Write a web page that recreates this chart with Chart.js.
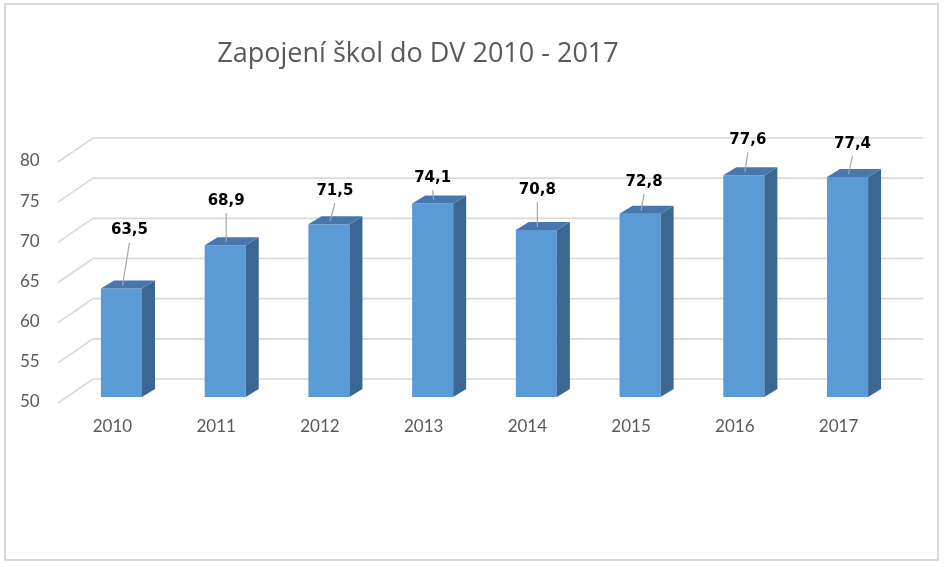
<!DOCTYPE html>
<html>
<head>
<meta charset="utf-8">
<script src="https://cdn.jsdelivr.net/npm/chart.js@4/dist/chart.umd.min.js"></script>
<style>
  html, body { margin: 0; padding: 0; background: #fff; }
  #wrap { width: 945px; height: 567px; }
</style>
</head>
<body>
<div id="wrap"><canvas id="myChart" width="945" height="567"></canvas></div>
<script>
// data
var years = ['2010', '2011', '2012', '2013', '2014', '2015', '2016', '2017'];
var values = [63.5, 68.9, 71.5, 74.1, 70.8, 72.8, 77.6, 77.4];
var yTicks = [50, 55, 60, 65, 70, 75, 80];

// where the data labels sit above each bar (px), as placed in the original
var labelLift = [58, 44, 33, 25, 40, 32, 35, 33];
var labelShift = [8, 1, 6, 0, 1, 4, 4, 5];

var titleText = 'Zapojení škol do DV 2010 - 2017';

// depth of the bar itself and of the back wall
var barDX = 13, barDY = 8;
var wallDX = 35, wallDY = 24;
var frontGap = 11.6, frontDrop = 6;

Chart.defaults.font.family = 'Lato, "Open Sans", sans-serif';
Chart.defaults.color = '#595959';

function fmt(v) {
    return v.toFixed(1).replace('.', ',');
}

var frame = {
    id: 'frame',
    beforeDraw: function(chart) {
        var c = chart.ctx;
        c.save();
        c.fillStyle = '#fff';
        c.fillRect(0, 0, chart.width, chart.height);
        c.strokeStyle = '#d9d9d9';
        c.lineWidth = 2;
        c.strokeRect(5, 4, 933, 556);
        c.fillStyle = '#595959';
        c.font = '27px "Open Sans", Lato, sans-serif';
        c.textAlign = 'center';
        c.textBaseline = 'middle';
        c.fillText(titleText, 418, 54);
        c.restore();
    }
};

// back wall grid + left side lines
var wall = {
    id: 'wall',
    beforeDatasetsDraw: function(chart) {
        var c = chart.ctx, ys = chart.scales.y, a = chart.chartArea;
        var x0 = a.left - frontGap;
        c.save();
        c.strokeStyle = '#d9d9d9';
        c.lineWidth = 1.6;
        yTicks.forEach(function(t) {
            var yf = ys.getPixelForValue(t) + frontDrop;
            c.beginPath();
            c.moveTo(x0, yf);
            c.lineTo(x0 + wallDX, yf - wallDY);
            c.lineTo(a.right + 24, yf - wallDY);
            c.stroke();
        });
        c.restore();
    }
};

// side and top faces, data labels with leader lines
var bars3d = {
    id: 'bars3d',
    afterDatasetsDraw: function(chart) {
        var c = chart.ctx;
        var meta = chart.getDatasetMeta(0);
        var floor = chart.scales.y.getPixelForValue(yTicks[0]);
        c.save();
        meta.data.forEach(function(bar, i) {
            var x0 = bar.x - bar.width / 2, x1 = bar.x + bar.width / 2;
            var top = bar.y, base = Math.min(bar.base, floor);
            c.fillStyle = '#3c6793';
            c.beginPath();
            c.moveTo(x1, top);
            c.lineTo(x1 + barDX, top - barDY);
            c.lineTo(x1 + barDX, base - barDY);
            c.lineTo(x1, base);
            c.closePath();
            c.fill();
            c.fillStyle = '#4777ad';
            c.beginPath();
            c.moveTo(x0, top);
            c.lineTo(x0 + barDX, top - barDY);
            c.lineTo(x1 + barDX, top - barDY);
            c.lineTo(x1, top);
            c.closePath();
            c.fill();

            var lx = bar.x + labelShift[i];
            var ly = top - labelLift[i];
            c.strokeStyle = '#a6a6a6';
            c.lineWidth = 1.2;
            c.beginPath();
            c.moveTo(lx, ly + 12);
            c.lineTo(bar.x + 1, top - 3);
            c.stroke();
            c.fillStyle = '#000';
            c.font = 'bold 15px "DejaVu Sans", sans-serif';
            c.textAlign = 'center';
            c.textBaseline = 'middle';
            c.fillText(fmt(values[i]), lx, ly);
        });
        c.restore();
    }
};

var ctx = document.getElementById('myChart').getContext('2d');

var myChart = new Chart(ctx, {
    type: 'bar',
    data: {
        labels: years,
        datasets: [{
            label: 'Zapojení škol',
            data: values,
            base: 50,
            backgroundColor: '#5b9bd5',
            borderWidth: 0,
            categoryPercentage: 0.4,
            barPercentage: 0.99
        }]
    },
    options: {
        responsive: false,
        animation: false,
        layout: { padding: { top: 156, right: 45.6, left: 0, bottom: 0 } },
        plugins: {
            legend: { display: false },
            tooltip: { enabled: false }
        },
        scales: {
            x: {
                grid: { display: false, drawTicks: false },
                border: { display: false },
                ticks: { font: { size: 17 }, padding: 19, labelOffset: -9, maxRotation: 0 },
                afterFit: function(s) { s.height = 170; }
            },
            y: {
                min: 50,
                max: 80,
                afterBuildTicks: function(s) { s.ticks = yTicks.map(function(v) { return { value: v }; }); },
                grid: { display: false, drawTicks: false },
                border: { display: false },
                ticks: { font: { size: 17 }, padding: 30, labelOffset: 5 },
                afterFit: function(s) { s.width = 69.6; }
            }
        }
    },
    plugins: [frame, wall, bars3d]
});
</script>
</body>
</html>
